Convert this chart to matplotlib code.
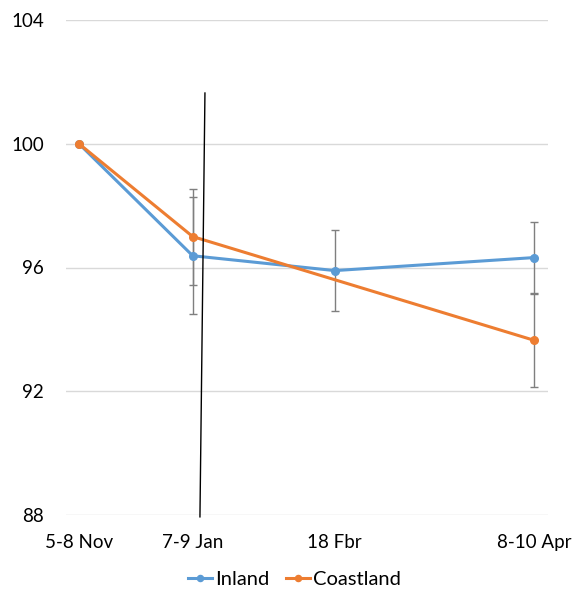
import matplotlib
matplotlib.use("Agg")
import matplotlib.pyplot as plt
import numpy as np

# Data
categories = ["5-8 Nov", "7-9 Jan", "18 Fbr", "8-10 Apr"]
x_pos = [0.0, 1.0, 2.25, 4.0]

inland = [100.0, 96.38, 95.9, 96.32]
inland_err = [0.0, 1.89, 1.3, 1.16]

coast_x = [0.0, 1.0, 4.0]
coastland = [100.0, 97.0, 93.65]
coastland_err = [0.0, 1.55, 1.5]

yticks = [88, 92, 96, 100, 104]

# stray drawn line (data coords)
stray_x = [1.108, 1.064]
stray_y = [101.64, 87.94]

plt.rcParams['font.family'] = ['Lato', 'DejaVu Sans']

fig = plt.figure(figsize=(5.76, 5.89), dpi=100)
ax = fig.add_axes([66/576, 1-515/589, (548-66)/576, (515-20)/589])

blue = "#5B9BD5"
orange = "#ED7D31"
errc = "#7F7F7F"

ax.errorbar(x_pos, inland, yerr=inland_err, fmt='none', ecolor=errc,
            elinewidth=1.0, capsize=3, capthick=1.0, zorder=2)
ax.errorbar(coast_x, coastland, yerr=coastland_err, fmt='none', ecolor=errc,
            elinewidth=1.0, capsize=3, capthick=1.0, zorder=2)

ax.plot(x_pos, inland, color=blue, lw=2.2, marker='o', ms=5.5, label="Inland", zorder=3)
ax.plot(coast_x, coastland, color=orange, lw=2.2, marker='o', ms=5.5, label="Coastland", zorder=4)

ax.plot(stray_x, stray_y, color='black', lw=1.0, zorder=5, clip_on=False)

ax.set_ylim(88, 104)
ax.set_xlim(-0.114, 4.125)
ax.set_yticks(yticks)
ax.set_yticklabels([str(t) for t in yticks])
ax.set_xticks(x_pos)
ax.set_xticklabels(categories)
ax.grid(axis='y', color='#D9D9D9', lw=1.0)
ax.set_axisbelow(True)
for s in ax.spines.values():
    s.set_visible(False)
ax.tick_params(axis='both', length=0, labelsize=13.5, colors='black')
ax.tick_params(axis='y', pad=16)
ax.tick_params(axis='x', pad=14)

leg = fig.legend(loc='center', bbox_to_anchor=(0.511, 1-579/589), ncol=2, frameon=False,
                 fontsize=14.5, handlelength=1.2, handletextpad=0.15, columnspacing=0.8,
                 borderaxespad=0, markerscale=0.8)

fig.savefig("out.png", dpi=100)
